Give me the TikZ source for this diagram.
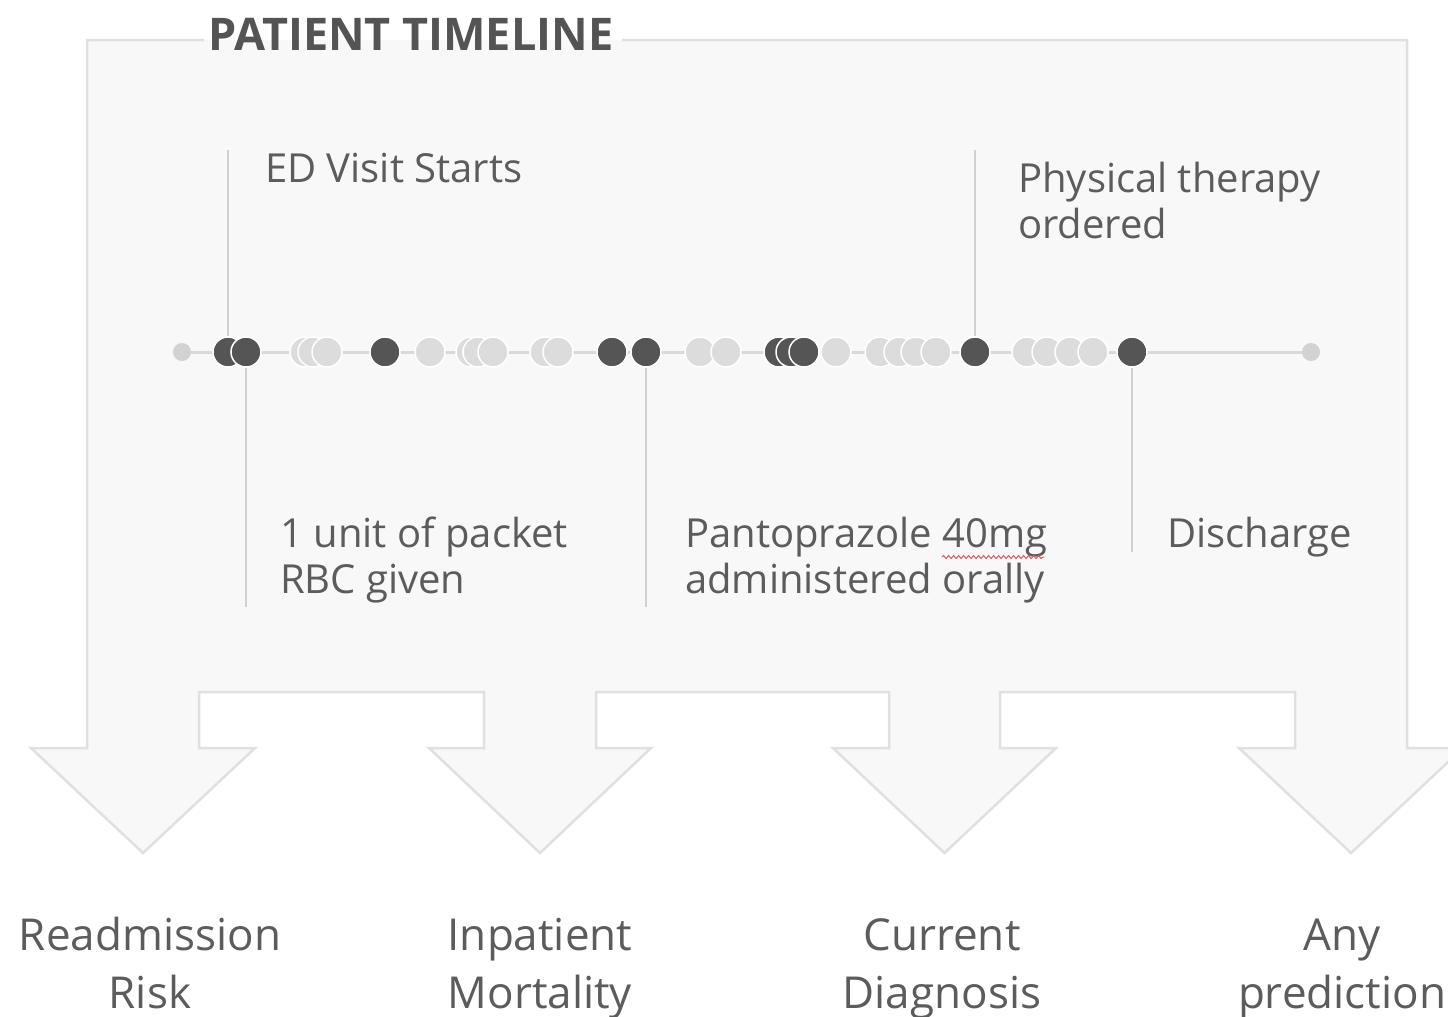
\documentclass[tikz,border=0pt]{standalone}
\usepackage{fontspec}
\setmainfont{Open Sans}
\usetikzlibrary{decorations.pathmorphing}
\definecolor{boxfill}{HTML}{F8F8F8}
\definecolor{boxline}{HTML}{E0E0E0}
\definecolor{darkdot}{HTML}{555555}
\definecolor{lightdot}{HTML}{DCDCDC}
\definecolor{enddot}{HTML}{D2D2D2}
\definecolor{tlline}{HTML}{D9D9D9}
\definecolor{tickline}{HTML}{D0D0D0}
\definecolor{labeltext}{HTML}{5C5C5C}
\definecolor{titletext}{HTML}{545454}
\definecolor{spell}{HTML}{E05A5A}
\begin{document}
\begin{tikzpicture}[x=1pt,y=-1pt,
  dotnode/.style={circle,minimum size=30pt,inner sep=0pt,draw=white,line width=1.5pt},
  dk/.style={dotnode,fill=darkdot},
  lt/.style={dotnode,fill=lightdot},
  enddotnode/.style={circle,minimum size=18pt,inner sep=0pt,fill=enddot},
  tickstyle/.style={draw=tickline,line width=2pt},
  evlabel/.style={anchor=base west,align=left,inner sep=0pt,text=labeltext,
    font=\fontsize{40}{46}\selectfont},
  outlabel/.style={anchor=base,align=center,inner sep=0pt,text=labeltext,
    font=\fontsize{44}{58}\selectfont},
  titlestyle/.style={anchor=base west,inner sep=0pt,text=titletext,
    font=\bfseries\fontsize{45}{50}\selectfont}]
\useasboundingbox (0,0) rectangle (1448,1017);
\fill[white] (0,0) rectangle (1448,1017);
% frame with four arrows
\fill[boxfill] (87,40) -- (1407,40) -- (1407,748) -- (1463,748) -- (1351,853) -- (1239,748)
  -- (1295,748) -- (1295,692) -- (1000,692) -- (1000,748) -- (1056,748) -- (944.5,853)
  -- (833,748) -- (889,748) -- (889,692) -- (596,692) -- (596,748) -- (651,748)
  -- (540,853) -- (429,748) -- (484,748) -- (484,692) -- (199,692) -- (199,748)
  -- (255,748) -- (143,853) -- (31,748) -- (87,748) -- cycle;
\node[titlestyle] (title) at (208,50) {PATIENT TIMELINE};
\draw[boxline,line width=2.5pt,line join=miter] (622,40) -- (1407,40) -- (1407,748) -- (1463,748) -- (1351,853) -- (1239,748)
  -- (1295,748) -- (1295,692) -- (1000,692) -- (1000,748) -- (1056,748) -- (944.5,853)
  -- (833,748) -- (889,748) -- (889,692) -- (596,692) -- (596,748) -- (651,748)
  -- (540,853) -- (429,748) -- (484,748) -- (484,692) -- (199,692) -- (199,748)
  -- (255,748) -- (143,853) -- (31,748) -- (87,748) -- (87,40) -- (204,40);
% timeline
\coordinate (tlstart) at (182,352);
\coordinate (tlend) at (1311,352);
\draw[tlline,line width=3pt] (tlstart) -- (tlend);
\node[enddotnode] (s1) at (tlstart) {};
\node[enddotnode] (s2) at (tlend) {};
\node[dk] (d1) at (228,352) {};
\node[dk] (d2) at (246,352) {};
\node[lt] (l1) at (305,352) {};
\node[lt] (l2) at (313,352) {};
\node[lt] (l3) at (327,352) {};
\node[dk] (d3) at (385,352) {};
\node[lt] (l4) at (430,352) {};
\node[lt] (l5) at (471,352) {};
\node[lt] (l6) at (478,352) {};
\node[lt] (l7) at (493,352) {};
\node[lt] (l8) at (545,352) {};
\node[lt] (l9) at (558,352) {};
\node[dk] (d4) at (612,352) {};
\node[dk] (d5) at (646,352) {};
\node[lt] (l10) at (700,352) {};
\node[lt] (l11) at (726,352) {};
\node[dk] (d6) at (779,352) {};
\node[dk] (d7) at (791,352) {};
\node[dk] (d8) at (804,352) {};
\node[lt] (l12) at (836,352) {};
\node[lt] (l13) at (880,352) {};
\node[lt] (l14) at (899,352) {};
\node[lt] (l15) at (916,352) {};
\node[lt] (l16) at (936,352) {};
\node[dk] (d9) at (975,352) {};
\node[lt] (l17) at (1027,352) {};
\node[lt] (l18) at (1047,352) {};
\node[lt] (l19) at (1070,352) {};
\node[lt] (l20) at (1093,352) {};
\node[dk] (d10) at (1132,352) {};
% tick ends
\coordinate (edtop) at (228,150);
\coordinate (pttop) at (975,150);
\coordinate (rbcbot) at (246,607);
\coordinate (panbot) at (646,607);
\coordinate (disbot) at (1132,552);
\draw[tickstyle] (d1.north) -- (edtop);
\draw[tickstyle] (d9.north) -- (pttop);
\draw[tickstyle] (d2.south) -- (rbcbot);
\draw[tickstyle] (d5.south) -- (panbot);
\draw[tickstyle] (d10.south) -- (disbot);
% event labels (base anchor = baseline of last line)
\node[evlabel] (ed) at (265,182) {ED Visit Starts};
\node[evlabel] (pt) at (1018,238) {Physical therapy\\ordered};
\node[evlabel] (rbc) at (280,593) {1 unit of packet\\RBC given};
\node[evlabel] (pan) at (685,593) {Pantoprazole 40mg\\administered orally};
\node[evlabel] (dis) at (1167,547) {Discharge};
\draw[spell,line width=1pt,decorate,decoration={snake,segment length=5pt,amplitude=1.5pt}] (942,557) -- (1044,557);
% outcomes
\node[outlabel] (o1) at (150,1008) {Readmission\\Risk};
\node[outlabel] (o2) at (540,1008) {Inpatient\\Mortality};
\node[outlabel] (o3) at (942,1008) {Current\\Diagnosis};
\node[outlabel] (o4) at (1342,1008) {Any\\prediction};
\end{tikzpicture}
\end{document}
